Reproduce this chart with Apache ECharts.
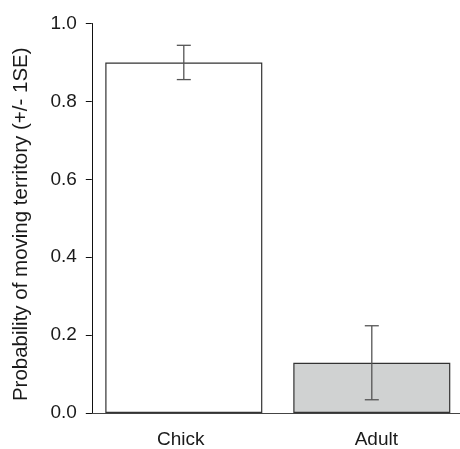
<!DOCTYPE html>
<html>
<head>
<meta charset="utf-8">
<script src="https://cdn.jsdelivr.net/npm/echarts@6/dist/echarts.min.js"></script>
<style>
  html, body { margin: 0; padding: 0; background: #fff; overflow: hidden; }
  #chart { width: 470px; height: 449px; }
</style>
</head>
<body>
<div id="chart"></div>
<script>
// data
var ageClasses = ['Chick', 'Adult'];
var probMove = [0.90, 0.129];
var probSE = [0.044, 0.095];
var barColors = ['#ffffff', '#d0d2d2'];
var yTicks = [0, 0.2, 0.4, 0.6, 0.8, 1.0];

var dom = document.getElementById('chart');
var myChart = echarts.init(dom);

var errData = ageClasses.map(function (c, i) {
    return [i, probMove[i] - probSE[i], probMove[i] + probSE[i]];
});

var option = {
    animation: false,
    textStyle: { fontFamily: 'Liberation Sans, Arial, sans-serif' },
    // plot area runs a little past the right edge of the picture
    grid: { left: 89.8, top: 23.5, width: 376, height: 392.2 },
    xAxis: {
        type: 'category',
        data: ageClasses,
        axisLine: { show: true, lineStyle: { color: '#444', width: 1 } },
        axisTick: { show: false },
        axisLabel: {
            fontSize: 19, color: '#1a1a1a', margin: 17,
            // labels sit slightly off the bar centres in the original
            formatter: function (v, i) { return '{l' + i + '|' + v + '}'; },
            rich: {
                l0: { fontSize: 19, color: '#1a1a1a', padding: [0, 6, 0, 0] },
                l1: { fontSize: 19, color: '#1a1a1a', padding: [0, 0, 0, 9] }
            }
        }
    },
    yAxis: {
        type: 'value',
        min: yTicks[0],
        max: yTicks[yTicks.length - 1],
        interval: 0.2,
        offset: -2,
        name: 'Probability of moving territory (+/- 1SE)',
        nameLocation: 'middle',
        nameGap: 60,
        nameTextStyle: { fontSize: 20.5, color: '#1a1a1a', padding: [0, 12, 0, 0] },
        axisLine: { show: true, lineStyle: { color: '#111', width: 1 } },
        axisTick: { show: true, length: 6, lineStyle: { color: '#111' } },
        splitLine: { show: false },
        axisLabel: {
            fontSize: 19, color: '#1a1a1a', margin: 15,
            formatter: function (v) { return v.toFixed(1); }
        }
    },
    series: [
        {
            type: 'bar',
            barWidth: 157,
            data: probMove.map(function (v, i) {
                return { value: v, itemStyle: { color: barColors[i] } };
            }),
            itemStyle: { borderColor: '#333', borderWidth: 1.2 }
        },
        {
            type: 'custom',
            data: errData,
            z: 5,
            renderItem: function (params, api) {
                var lo = api.coord([api.value(0), api.value(1)]);
                var hi = api.coord([api.value(0), api.value(2)]);
                var hw = 7;
                var st = { stroke: '#555', lineWidth: 1.3 };
                return {
                    type: 'group',
                    children: [
                        { type: 'line', shape: { x1: lo[0], y1: lo[1], x2: hi[0], y2: hi[1] }, style: st },
                        { type: 'line', shape: { x1: lo[0] - hw, y1: lo[1], x2: lo[0] + hw, y2: lo[1] }, style: st },
                        { type: 'line', shape: { x1: hi[0] - hw, y1: hi[1], x2: hi[0] + hw, y2: hi[1] }, style: st }
                    ]
                };
            }
        }
    ]
};

myChart.setOption(option);
window.onresize = myChart.resize;
</script>
</body>
</html>
